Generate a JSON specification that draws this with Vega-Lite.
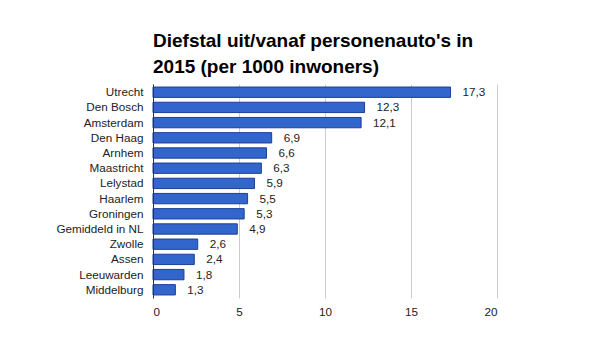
{
  "$schema": "https://vega.github.io/schema/vega-lite/v6.json",
  "autosize": {"type": "none"},
  "width": 344,
  "height": 214,
  "padding": {"left": 153, "top": 84, "right": 103, "bottom": 52},
  "background": "white",
  "title": {
    "text": ["Diefstal uit/vanaf personenauto's in", "2015 (per 1000 inwoners)"],
    "anchor": "start",
    "frame": "group",
    "font": "Liberation Sans",
    "fontSize": 19,
    "fontWeight": "bold",
    "color": "#000000",
    "lineHeight": 26,
    "offset": 7
  },
  "config": {
    "locale": {"number": {"decimal": ",", "thousands": ".", "grouping": [3], "currency": ["€", ""]}},
    "view": {"stroke": null},
    "font": "Liberation Sans"
  },
  "data": {
    "values": [
      {"stad": "Utrecht", "waarde": 17.3},
      {"stad": "Den Bosch", "waarde": 12.3},
      {"stad": "Amsterdam", "waarde": 12.1},
      {"stad": "Den Haag", "waarde": 6.9},
      {"stad": "Arnhem", "waarde": 6.6},
      {"stad": "Maastricht", "waarde": 6.3},
      {"stad": "Lelystad", "waarde": 5.9},
      {"stad": "Haarlem", "waarde": 5.5},
      {"stad": "Groningen", "waarde": 5.3},
      {"stad": "Gemiddeld in NL", "waarde": 4.9},
      {"stad": "Zwolle", "waarde": 2.6},
      {"stad": "Assen", "waarde": 2.4},
      {"stad": "Leeuwarden", "waarde": 1.8},
      {"stad": "Middelburg", "waarde": 1.3}
    ]
  },
  "encoding": {
    "y": {
      "field": "stad",
      "type": "nominal",
      "sort": null,
      "title": null,
      "scale": {"paddingInner": 0.32, "paddingOuter": 0.2},
      "axis": {
        "ticks": false,
        "domain": true,
        "domainColor": "#333333",
        "labelFontSize": 11.7,
        "labelColor": "#222222",
        "labelPadding": 10,
        "zindex": 2
      }
    },
    "x": {
      "field": "waarde",
      "type": "quantitative",
      "title": null,
      "scale": {"domain": [0, 20]},
      "axis": {
        "values": [0, 5, 10, 15, 20],
        "format": "d",
        "ticks": false,
        "domain": false,
        "grid": true,
        "gridColor": "#cccccc",
        "labelFontSize": 11.7,
        "labelColor": "#222222",
        "labelPadding": 8
      }
    }
  },
  "layer": [
    {
      "mark": {"type": "bar", "color": "#3366cc", "stroke": "#1c3f95", "strokeWidth": 1}
    },
    {
      "mark": {"type": "text", "align": "left", "dx": 12, "fontSize": 11.7, "color": "#222222"},
      "encoding": {"text": {"field": "waarde", "type": "quantitative", "format": ".1f"}}
    }
  ]
}
